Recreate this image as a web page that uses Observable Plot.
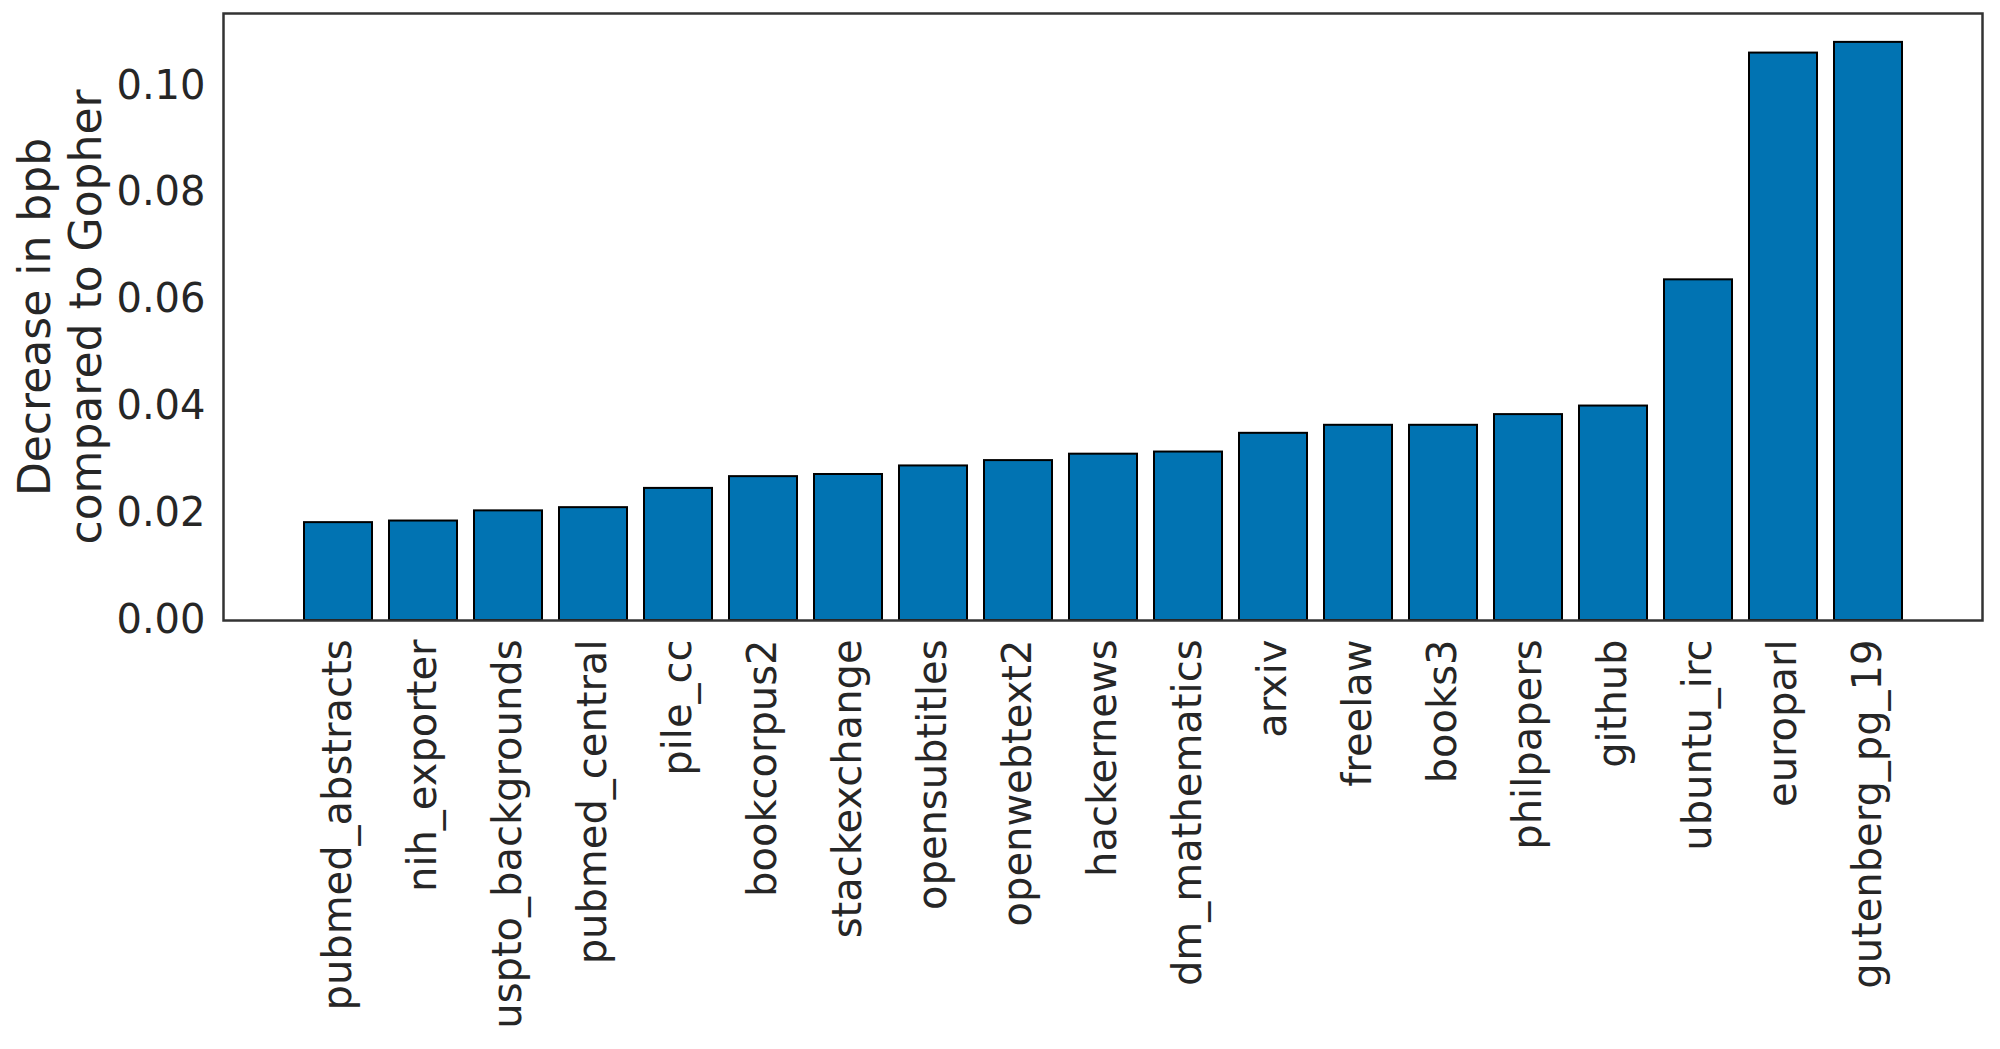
<!DOCTYPE html>
<html>
<head>
<meta charset="utf-8">
<script src="https://cdn.jsdelivr.net/npm/d3@7"></script>
<script src="https://cdn.jsdelivr.net/npm/@observablehq/plot@0.6"></script>
<style>
  html, body { margin: 0; padding: 0; background: #ffffff; }
  #chart svg { display: block; }
</style>
</head>
<body>
<div id="chart"></div>
<script>
const datasets = ["pubmed_abstracts", "nih_exporter", "uspto_backgrounds", "pubmed_central", "pile_cc",
  "bookcorpus2", "stackexchange", "opensubtitles", "openwebtext2", "hackernews", "dm_mathematics",
  "arxiv", "freelaw", "books3", "philpapers", "github", "ubuntu_irc", "europarl", "gutenberg_pg_19"];
const decrease = [0.0183, 0.0186, 0.0205, 0.0211, 0.0247,
  0.0269, 0.0273, 0.0289, 0.0299, 0.0311, 0.0315,
  0.0350, 0.0365, 0.0365, 0.0385, 0.0401, 0.0637, 0.1061, 0.1081];
const yTicks = [0, 0.02, 0.04, 0.06, 0.08, 0.10];
const yLabelLines = ["Decrease in bpb", "compared to Gopher"];

const rows = datasets.map((name, i) => ({name, value: decrease[i]}));
const textColor = "#262626";
const font = "DejaVu Sans";

const chart = Plot.plot({
  width: 2000,
  height: 1049,
  marginLeft: 223,
  marginRight: 18,
  marginTop: 13,
  marginBottom: 429,
  style: {fontFamily: font, fontSize: "40px", color: textColor, background: "#ffffff"},
  x: {domain: datasets, paddingInner: 0.2, paddingOuter: 0.94, label: null},
  y: {domain: [0, 0.1135], label: null},
  marks: [
    Plot.barY(rows, {x: "name", y: "value", fill: "#0173b2", stroke: "#000000", strokeWidth: 2}),
    Plot.frame({stroke: "#333333", strokeWidth: 2.5}),
    Plot.axisY(yTicks, {tickFormat: d3.format(".2f"), tickSize: 0, tickPadding: 18, fontSize: 40, fill: textColor, label: null}),
    Plot.axisX({tickRotate: -90, tickSize: 0, tickPadding: 19, fontSize: 40, fill: textColor, label: null}),
    Plot.text([yLabelLines.join("\n")], {frameAnchor: "left", rotate: -90, dx: -164, lineAnchor: "middle", lineHeight: 1.15, fontSize: 44, fill: textColor, textAnchor: "middle"})
  ]
});
document.getElementById("chart").appendChild(chart);
</script>
</body>
</html>
